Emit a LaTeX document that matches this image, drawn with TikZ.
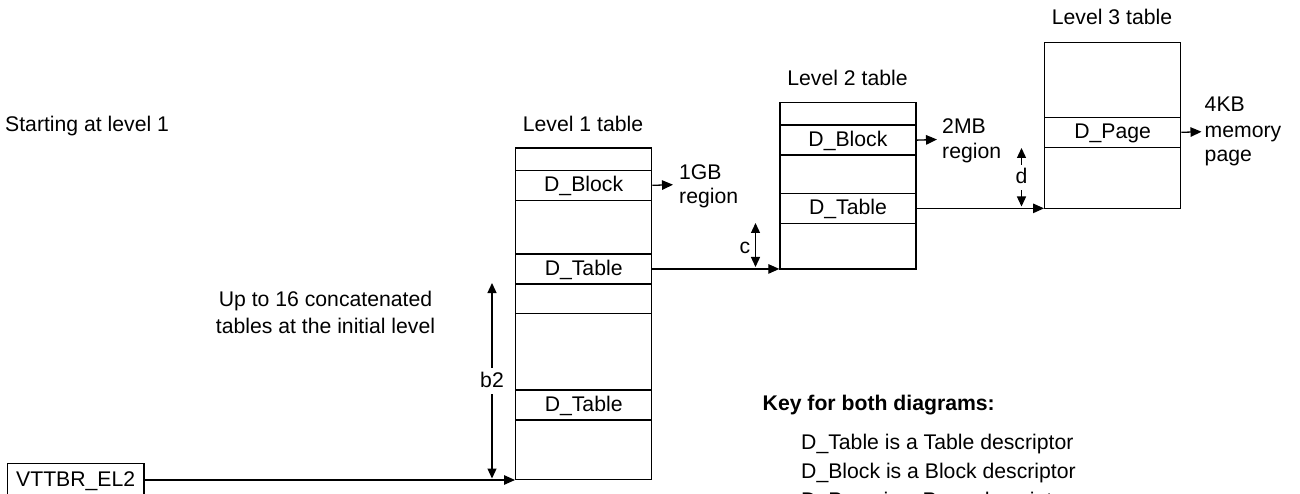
\documentclass[tikz,border=0pt]{standalone}
\usepackage{fontspec}
\setmainfont{Liberation Sans}
\usetikzlibrary{arrows.meta}
\begin{document}
\begin{tikzpicture}[x=1pt,y=-1pt,
  every node/.style={font=\fontsize{21.2}{25}\selectfont, inner sep=0pt},
  tbl/.style={draw, line width=1.3pt, anchor=north west, minimum width=136pt},
  entry/.style={draw, line width=1.3pt, anchor=north west, minimum width=136pt,
                minimum height=30pt, text height=14pt, text depth=1.5pt},
  lbl/.style={anchor=base},
  lblw/.style={anchor=base west},
  arr/.style={line width=1.3pt, -{Triangle[length=11pt,width=9.5pt]}},
  darr/.style={line width=1.3pt, {Triangle[length=10pt,width=9pt]}-{Triangle[length=10pt,width=9pt]}},
  gap/.style={anchor=base, fill=white, text height=14pt, text depth=1.5pt, inner xsep=2pt, inner ysep=5pt}
]
\useasboundingbox (0,0) rectangle (1300,494);

% ---- Level 1 table
\node[tbl, minimum height=331.7pt] (L1) at (515,147.3) {};
\node[entry] (L1b) at (515,169.7) {D\_Block};
\node[entry] (L1t) at (515,253.3) {D\_Table};
\draw[line width=1.3pt] (L1.west |- 0,313.3) -- (L1.east |- 0,313.3);
\node[entry] (L1t2) at (515,389.3) {D\_Table};
\node[lbl] (L1title) at (583,132) {Level 1 table};

% ---- Level 2 table
\node[tbl, minimum height=166.6pt] (L2) at (779.3,101.7) {};
\node[entry] (L2b) at (779.3,124.5) {D\_Block};
\node[entry] (L2t) at (779.3,192.7) {D\_Table};
\node[lbl] (L2title) at (847.5,86) {Level 2 table};

% ---- Level 3 table
\node[tbl, minimum height=166pt] (L3) at (1044,41.7) {};
\node[entry] (L3p) at (1044,116.7) {D\_Page};
\node[lbl] (L3title) at (1112,25) {Level 3 table};

% ---- region arrows
\coordinate (r1) at (673,184.7);
\draw[arr] (L1b.east) -- (r1);
\node[lblw] (gb1) at (679,179.5) {1GB};
\node[lblw] (gb2) at (679,203.5) {region};

\coordinate (r2) at (937,139.5);
\draw[arr] (L2b.east) -- (r2);
\node[lblw] (mb1) at (942,133.5) {2MB};
\node[lblw] (mb2) at (942,158.5) {region};

\coordinate (r3) at (1201.5,131.7);
\draw[arr] (L3p.east) -- (r3);
\node[lblw] (kb1) at (1204.5,111.7) {4KB};
\node[lblw] (kb2) at (1204.5,137.5) {memory};
\node[lblw] (kb3) at (1204.5,161.7) {page};

% ---- table links
\draw[arr] (L1t.east) -- (L1t.east -| L2.west);
\draw[arr] (L2t.east) -- (L2t.east -| L3.west);

% ---- c and d offsets
\coordinate (ctop) at (755.5,223);
\coordinate (cbot) at (755.5,267);
\draw[darr] (ctop) -- (cbot);
\node[lbl] (clab) at (745,253.3) {c};

\coordinate (dtop) at (1021.5,148);
\coordinate (dbot) at (1021.5,206.5);
\draw[darr] (dtop) -- (dbot);
\node[gap] (dlab) at (1021.5,184) {d};

% ---- b2
\coordinate (btop) at (492,283);
\coordinate (bbot) at (492,478.5);
\draw[darr] (btop) -- (bbot);
\node[gap] (blab) at (492,387.3) {b2};

% ---- VTTBR
\node[draw, line width=1.3pt, minimum width=136.7pt, minimum height=33.4pt,
      text height=14pt, text depth=1.5pt] (vt) at (75.7,480) {VTTBR\_EL2};
\draw[arr] (vt.east) -- (vt.east -| L1.west);

% ---- free texts
\node[lblw] (start) at (5,131.7) {Starting at level 1};
\node[lbl] (up1) at (325.5,306) {Up to 16 concatenated};
\node[lbl] (up2) at (325.5,333) {tables at the initial level};

\node[lblw, font=\fontsize{21.2}{25}\selectfont\bfseries] (key) at (762.5,410.7) {Key for both diagrams:};
\node[lblw] (k1) at (801,449.3) {D\_Table is a Table descriptor};
\node[lblw] (k2) at (801,478.3) {D\_Block is a Block descriptor};
\node[lblw] (k3) at (801,507.3) {D\_Page is a Page descriptor};
\end{tikzpicture}
\end{document}
